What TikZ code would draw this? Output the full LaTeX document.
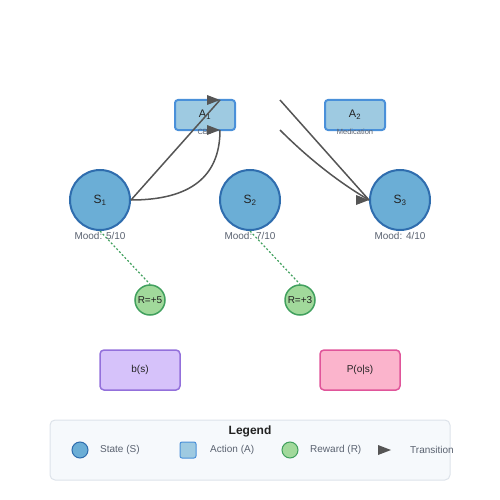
\documentclass[tikz,border=0pt]{standalone}
\usepackage{fontspec}
\setmainfont{Liberation Sans}
\usetikzlibrary{positioning}
\definecolor{statefill}{HTML}{6BAED6}
\definecolor{statedraw}{HTML}{2F6DAE}
\definecolor{actfill}{HTML}{9ECAE1}
\definecolor{actdraw}{HTML}{4A90D9}
\definecolor{rewfill}{HTML}{A1D99B}
\definecolor{rewdraw}{HTML}{41A05E}
\definecolor{belfill}{HTML}{D6C2FA}
\definecolor{beldraw}{HTML}{9370DB}
\definecolor{obsfill}{HTML}{FBB4CC}
\definecolor{obsdraw}{HTML}{E0559A}
\definecolor{linkgray}{HTML}{555555}
\definecolor{labelgray}{HTML}{5A6270}
\definecolor{legfill}{HTML}{F6F9FC}
\definecolor{legdraw}{HTML}{DDE3EA}
\definecolor{textdark}{HTML}{222222}
\newcommand{\headat}[1]{\fill[linkgray] (#1) -- ++(-13,-5) -- ++(0,10) -- cycle;}

\begin{document}
\begin{tikzpicture}[x=1pt, y=-1pt]
        % states on one row, actions above, rewards below
        \tikzset{
          state/.style={circle, draw=statedraw, fill=statefill, line width=2pt, minimum size=60pt, inner sep=0pt, text=textdark, font=\fontsize{12}{14}\selectfont},
          action/.style={rectangle, rounded corners=3pt, draw=actdraw, fill=actfill, line width=2pt, minimum width=60pt, minimum height=30pt, inner sep=0pt, text=textdark, font=\fontsize{11}{13}\selectfont},
          reward/.style={circle, draw=rewdraw, fill=rewfill, line width=1.5pt, minimum size=30pt, inner sep=0pt, text=textdark, font=\fontsize{10}{12}\selectfont},
          infobox/.style={rectangle, rounded corners=4pt, line width=1.5pt, minimum width=80pt, minimum height=40pt, inner sep=0pt, text=textdark, font=\fontsize{10}{12}\selectfont},
          moodtext/.style={inner sep=0pt, text=labelgray, font=\fontsize{10}{12}\selectfont},
          smalltext/.style={inner sep=0pt, text=labelgray, font=\fontsize{7.5}{9}\selectfont},
          legtext/.style={inner sep=0pt, anchor=west, text=labelgray, font=\fontsize{10}{12}\selectfont},
          link/.style={draw=linkgray, line width=1.5pt},
          rewlink/.style={draw=rewdraw, line width=1.2pt, dash pattern=on 2pt off 2pt}
        }
        \useasboundingbox (0,0) rectangle (500,500);

        \node[state] (S1) at (100,200) {S\textsubscript{1}};
        \node[state] (S2) at (250,200) {S\textsubscript{2}};
        \node[state] (S3) at (400,200) {S\textsubscript{3}};
        \node[moodtext, below=1pt of S1] (M1) {Mood: 5/10};
        \node[moodtext, below=1pt of S2] (M2) {Mood: 7/10};
        \node[moodtext, below=1pt of S3] (M3) {Mood: 4/10};

        \node[action] (A1) at (205,115) {A\textsubscript{1}};
        \node[action] (A2) at (355,115) {A\textsubscript{2}};
        \node[smalltext, below=-2pt of A1] (CBT) {CBT};
        \node[smalltext, below=-2pt of A2] (MED) {Medication};

        \node[reward] (R1) at (150,300) {R=+5};
        \node[reward] (R2) at (300,300) {R=+3};

        \node[infobox, draw=beldraw, fill=belfill] (B) at (140,370) {b(s)};
        \node[infobox, draw=obsdraw, fill=obsfill] (P) at (360,370) {P(o|s)};

        % transitions
        \coordinate (A1top) at (220,100);
        \coordinate (A1bot) at (220,130);
        \coordinate (T1) at (280,100);
        \coordinate (T2) at (280,130);

        \draw[link] (S1.east) -- (A1top);
        \draw[link] (S1.east) .. controls (190,200) and (220,177) .. (A1bot);
        \draw[link] (T1) -- (S3.west);
        \draw[link] (T2) .. controls (310,160) and (340,183) .. (S3.west);
        \headat{A1top}
        \headat{A1bot}
        \headat{S3.west}

        \draw[rewlink] (S1.south) -- (R1.north);
        \draw[rewlink] (S2.south) -- (R2.north);

        % legend
        \node[rectangle, rounded corners=5pt, draw=legdraw, fill=legfill, line width=1pt, minimum width=400pt, minimum height=60pt] (L) at (250,450) {};
        \node[text=textdark, font=\bfseries\fontsize{12}{14}\selectfont] (LT) at (250,431) {Legend};
        \node[circle, draw=statedraw, fill=statefill, line width=1pt, minimum size=16pt, inner sep=0pt] (LS) at (80,450) {};
        \node[legtext] (LSt) at (100,450) {State (S)};
        \node[rectangle, rounded corners=2pt, draw=actdraw, fill=actfill, line width=1pt, minimum size=16pt, inner sep=0pt] (LA) at (188,450) {};
        \node[legtext] (LAt) at (210,450) {Action (A)};
        \node[circle, draw=rewdraw, fill=rewfill, line width=1pt, minimum size=16pt, inner sep=0pt] (LR) at (290,450) {};
        \node[legtext] (LRt) at (310,450) {Reward (R)};
        \coordinate (LX) at (391,450);
        \headat{LX}
        \node[legtext] (LXt) at (410,450) {Transition};
\end{tikzpicture}
\end{document}
